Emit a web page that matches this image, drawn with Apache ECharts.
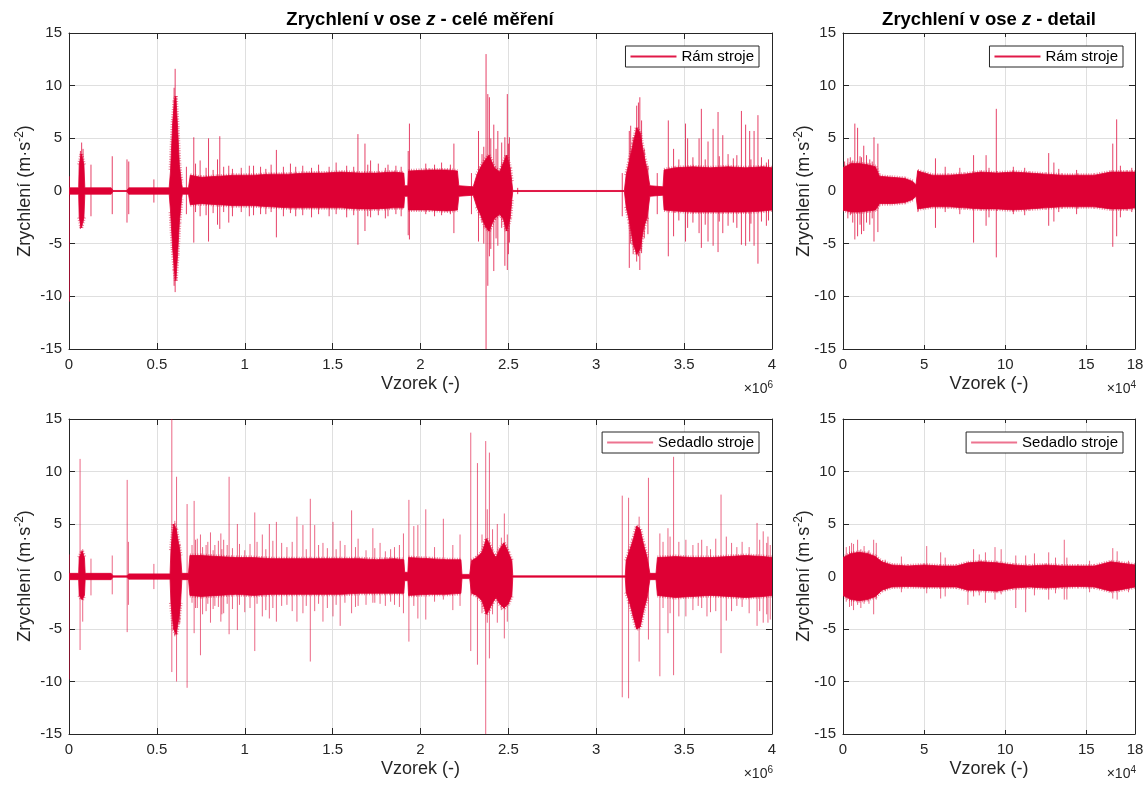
<!DOCTYPE html>
<html>
<head>
<meta charset="utf-8">
<title>Zrychlení v ose z</title>
<script src="https://cdn.jsdelivr.net/npm/echarts@6/dist/echarts.min.js"></script>
<style>
  html, body { margin: 0; padding: 0; background: #fff; }
  #chart { width: 1147px; height: 787px; }
</style>
</head>
<body>
<div id="chart"></div>
<script>
// ---- data (envelopes [x, max, min]) ----
// left panels: x in 1e6 samples, right panels: x in 1e4 samples
var yTicks = [-15, -10, -5, 0, 5, 10, 15];
var seriesNames = ['Rám stroje', 'Sedadlo stroje'];

// rám stroje - celé měření
var ramBand = [
  [0, 0.3, -0.3], [0.055, 0.3, -0.3], [0.058, 2.5, -2.5], [0.07, 3.5, -3.5], [0.085, 2.5, -2.5],
  [0.09, 0.3, -0.3], [0.24, 0.3, -0.3], [0.25, 0.05, -0.05], [0.33, 0.05, -0.05], [0.34, 0.3, -0.3],
  [0.57, 0.3, -0.3], [0.578, 2.0, -2.0], [0.59, 6.5, -5.5], [0.6, 8.5, -7.5], [0.608, 9.0, -8.5],
  [0.618, 6.0, -6.0], [0.628, 2.5, -3.0], [0.64, 0.8, -0.8], [0.645, 0.3, -0.3], [0.68, 0.3, -0.3],
  [0.69, 1.5, -1.3], [0.75, 1.3, -1.2], [0.85, 1.4, -1.3], [0.95, 1.5, -1.4], [1.05, 1.5, -1.4],
  [1.15, 1.6, -1.5], [1.25, 1.6, -1.6], [1.35, 1.7, -1.6], [1.45, 1.7, -1.6], [1.55, 1.8, -1.6],
  [1.65, 1.7, -1.7], [1.75, 1.7, -1.7], [1.85, 1.8, -1.6], [1.905, 1.7, -1.6], [1.91, 0.5, -0.5],
  [1.928, 0.5, -0.5], [1.932, 1.9, -1.8], [2.05, 2.0, -1.8], [2.15, 2.0, -1.9], [2.21, 1.9, -1.8],
  [2.218, 0.5, -0.5], [2.3, 0.4, -0.4], [2.32, 1.5, -1.5], [2.34, 2.2, -2.2], [2.37, 3.0, -3.4],
  [2.39, 3.4, -3.8], [2.42, 2.2, -2.6], [2.45, 1.8, -2.2], [2.47, 2.6, -2.6], [2.49, 3.4, -3.8],
  [2.51, 2.2, -2.6], [2.52, 0.8, -0.8], [2.525, 0.05, -0.05], [3.16, 0.05, -0.05], [3.17, 1.5, -1.5],
  [3.19, 3.0, -3.0], [3.21, 4.5, -5.0], [3.23, 6.0, -6.0], [3.25, 5.5, -5.5], [3.27, 3.5, -3.5],
  [3.29, 2.0, -2.5], [3.305, 0.5, -0.5], [3.38, 0.4, -0.4], [3.386, 2.0, -1.8], [3.45, 2.2, -1.9],
  [3.55, 2.3, -2.0], [3.65, 2.2, -2.0], [3.75, 2.3, -2.0], [3.85, 2.2, -2.0], [3.95, 2.3, -1.9],
  [4.0, 2.2, -1.8]
];
var ramSpikes = [
  [0.002, 1.4, -10.5], [0.065, 3.8, -3.6], [0.072, 4.6, -3.4], [0.08, 4.0, -3.0], [0.125, 2.5, -2.4],
  [0.246, 3.3, -2.2], [0.33, 3.0, -3.0], [0.34, 2.8, -2.2], [0.483, 1.1, -1.1], [0.598, 9.8, -9.0],
  [0.604, 11.6, -9.6], [0.668, 2.3, -2.2], [0.71, 5.1, -4.9], [0.746, 2.9, -2.4], [0.794, 5.0, -4.8],
  [0.845, 3.0, -3.2], [0.858, 5.2, -3.6], [0.909, 2.4, -3.0], [1.026, 2.4, -2.4], [1.09, 2.3, -2.2],
  [1.18, 3.9, -4.4], [1.29, 2.3, -2.4], [1.644, 5.4, -5.1], [1.684, 4.5, -3.8], [1.716, 2.9, -2.5],
  [1.815, 2.5, -2.4], [1.93, 3.8, -4.2], [1.937, 6.4, -4.6], [2.19, 4.5, -4.0], [2.29, 1.7, -2.2],
  [2.33, 5.7, -4.8], [2.35, 3.5, -3.0], [2.36, 4.2, -5.0], [2.373, 13.0, -15], [2.383, 9.2, -9.0],
  [2.392, 8.9, -6.2], [2.4, 5.0, -5.5], [2.417, 6.3, -7.6], [2.43, 4.0, -4.5], [2.44, 5.7, -5.2],
  [2.462, 4.6, -3.5], [2.48, 5.1, -7.1], [2.494, 9.2, -7.5], [2.5, 4.5, -6.0], [2.506, 5.1, -4.9],
  [2.553, 0.3, -0.3], [3.148, 1.7, -2.4], [3.188, 5.7, -7.3], [3.196, 6.2, -5.0], [3.21, 5.1, -6.0],
  [3.23, 8.1, -6.7], [3.24, 8.4, -6.2], [3.248, 8.9, -7.5], [3.258, 6.7, -5.9], [3.273, 4.0, -4.5],
  [3.294, 2.4, -4.1], [3.347, 1.7, -2.2], [3.41, 6.7, -6.2], [3.44, 4.0, -4.3], [3.508, 6.4, -4.8],
  [3.52, 5.0, -3.5], [3.585, 5.0, -4.0], [3.598, 7.8, -5.4], [3.636, 4.7, -4.8], [3.665, 5.9, -5.2],
  [3.693, 7.5, -5.8], [3.72, 5.3, -4.0], [3.75, 3.5, -3.3], [3.826, 7.6, -5.1], [3.85, 6.3, -5.2],
  [3.873, 5.7, -4.8], [3.898, 5.7, -5.2], [3.92, 7.2, -6.9], [3.968, 2.7, -3.3], [3.996, 2.2, -1.6],
  // smaller ones along the band edges
  [0.72, 2.6, -2.0], [0.78, 2.2, -2.3], [0.82, 2.0, -2.1], [0.88, 2.3, -2.0], [0.93, 2.1, -2.4],
  [0.98, 2.2, -2.0], [1.05, 2.4, -2.3], [1.12, 2.1, -2.2], [1.15, 2.5, -2.0], [1.22, 2.3, -2.4],
  [1.26, 2.6, -2.1], [1.33, 2.4, -2.3], [1.38, 2.2, -2.5], [1.42, 2.5, -2.2], [1.48, 2.3, -2.4],
  [1.52, 2.7, -2.2], [1.58, 2.4, -2.5], [1.62, 2.3, -2.3], [1.7, 2.5, -2.4], [1.76, 2.6, -2.3],
  [1.8, 2.2, -2.6], [1.86, 2.4, -2.2], [1.89, 2.3, -2.4], [2.03, 2.6, -2.2], [2.08, 2.5, -2.4],
  [2.12, 2.7, -2.3], [2.17, 2.5, -2.2], [3.47, 3.0, -2.8], [3.55, 3.2, -3.0], [3.62, 3.0, -3.2],
  [3.7, 3.3, -2.9], [3.78, 3.1, -3.0], [3.8, 3.4, -3.5], [3.88, 3.0, -3.1], [3.94, 3.2, -2.9],
  [3.98, 3.0, -2.8]
];

// rám stroje - detail
var ramDetBand = [
  [0, 2.2, -1.8], [0.5, 2.6, -2.0], [1.0, 2.6, -2.0], [1.5, 2.5, -1.9], [2.0, 2.3, -1.8],
  [2.25, 1.4, -1.2], [3.0, 1.3, -1.2], [3.8, 1.2, -1.1], [4.3, 0.9, -0.8], [4.5, 0.6, -0.5],
  [4.6, 1.9, -1.7], [5.5, 1.5, -1.5], [6.5, 1.5, -1.5], [7.5, 1.6, -1.6], [8.5, 1.8, -1.7],
  [9.5, 1.7, -1.7], [10.5, 1.8, -1.8], [11.5, 1.7, -1.7], [12.5, 1.6, -1.6], [13.5, 1.5, -1.5],
  [14.5, 1.5, -1.5], [15.5, 1.5, -1.5], [16.5, 1.8, -1.7], [17.5, 1.8, -1.7], [18, 1.8, -1.6]
];
var ramDetSpikes = [
  [0.1, 2.8, -1.9], [0.3, 3.1, -2.6], [0.45, 3.2, -2.3], [0.6, 2.9, -3.0], [0.73, 6.4, -4.6],
  [0.9, 6.0, -4.3], [1.05, 3.3, -3.2], [1.14, 3.2, -4.1], [1.28, 4.3, -3.8], [1.45, 3.4, -3.0],
  [1.65, 3.0, -3.2], [1.8, 2.8, -2.6], [1.91, 5.1, -4.8], [2.15, 4.5, -3.9], [4.62, 2.0, -2.0],
  [5.7, 3.1, -3.5], [6.3, 2.3, -2.0], [7.2, 2.2, -2.2], [8.05, 3.4, -4.9], [8.82, 3.4, -3.3],
  [9.0, 2.2, -2.5], [9.45, 7.8, -6.3], [10.5, 2.3, -2.2], [11.2, 2.2, -2.3], [12.68, 3.6, -3.3],
  [13.0, 2.7, -2.9], [13.3, 2.1, -2.0], [14.4, 2.0, -2.2], [16.63, 4.5, -5.3], [16.87, 6.8, -4.3],
  [17.1, 2.4, -2.5], [17.8, 2.2, -2.0]
];

// sedadlo stroje - celé měření
var sedBand = [
  [0, 0.3, -0.3], [0.055, 0.3, -0.3], [0.058, 1.8, -1.8], [0.075, 2.4, -2.2], [0.088, 1.8, -1.8],
  [0.092, 0.3, -0.3], [0.24, 0.3, -0.3], [0.25, 0.06, -0.06], [0.33, 0.06, -0.06], [0.34, 0.25, -0.25],
  [0.575, 0.25, -0.25], [0.58, 2.5, -2.5], [0.595, 5.0, -5.0], [0.61, 4.5, -5.5], [0.625, 3.0, -4.0],
  [0.635, 2.0, -2.5], [0.642, 0.3, -0.3], [0.68, 0.3, -0.3], [0.688, 2.0, -1.8], [0.75, 2.0, -1.9],
  [0.85, 1.9, -1.8], [0.95, 1.8, -1.7], [1.05, 1.8, -1.8], [1.15, 1.7, -1.7], [1.25, 1.7, -1.7],
  [1.35, 1.7, -1.7], [1.45, 1.7, -1.7], [1.55, 1.7, -1.7], [1.65, 1.7, -1.6], [1.75, 1.6, -1.6],
  [1.85, 1.7, -1.6], [1.905, 1.6, -1.6], [1.91, 0.4, -0.4], [1.928, 0.4, -0.4], [1.932, 1.8, -1.8],
  [2.05, 1.7, -1.7], [2.15, 1.6, -1.7], [2.23, 1.6, -1.6], [2.236, 0.2, -0.2], [2.28, 0.2, -0.2],
  [2.29, 1.5, -1.6], [2.32, 1.8, -1.8], [2.35, 2.3, -2.3], [2.375, 3.6, -3.6], [2.39, 3.2, -3.2],
  [2.41, 2.3, -2.5], [2.43, 1.8, -2.0], [2.45, 2.6, -2.6], [2.475, 3.2, -3.0], [2.5, 2.3, -2.6],
  [2.52, 1.5, -1.8], [2.525, 0.06, -0.06], [3.165, 0.06, -0.06], [3.17, 1.5, -1.5], [3.19, 2.5, -2.5],
  [3.21, 3.5, -3.8], [3.23, 4.8, -5.0], [3.25, 4.5, -4.8], [3.27, 3.0, -3.2], [3.29, 1.8, -2.0],
  [3.305, 0.3, -0.3], [3.34, 0.3, -0.3], [3.348, 1.8, -1.8], [3.45, 1.9, -2.0], [3.55, 1.8, -1.9],
  [3.65, 1.8, -1.8], [3.75, 1.9, -1.9], [3.85, 2.0, -2.0], [3.95, 1.9, -1.9], [4.0, 1.8, -1.8]
];
var sedSpikes = [
  [0.002, 2.1, -9.8], [0.063, 11.2, -7.0], [0.07, 2.5, -2.2], [0.078, 2.6, -4.3], [0.125, 1.7, -1.8],
  [0.246, 2.0, -1.7], [0.331, 9.2, -5.3], [0.338, 3.3, -2.7], [0.483, 1.2, -1.2], [0.585, 15, -9.1],
  [0.602, 5.3, -5.7], [0.612, 9.5, -10.0], [0.63, 3.0, -4.5], [0.672, 6.9, -10.6], [0.712, 7.2, -5.4],
  [0.72, 3.5, -3.0], [0.748, 4.0, -7.5], [0.78, 3.0, -3.3], [0.805, 4.2, -4.4], [0.83, 3.0, -2.8],
  [0.864, 4.1, -4.3], [0.88, 3.5, -3.5], [0.911, 9.5, -5.5], [0.958, 5.0, -5.1], [1.03, 3.1, -3.0],
  [1.057, 6.1, -7.1], [1.1, 4.0, -3.8], [1.14, 5.0, -4.0], [1.18, 5.2, -4.3], [1.21, 3.2, -2.8],
  [1.297, 5.7, -4.3], [1.331, 4.9, -3.5], [1.373, 7.4, -8.1], [1.398, 4.9, -3.3], [1.445, 3.2, -4.3],
  [1.502, 5.2, -3.8], [1.543, 3.4, -4.7], [1.608, 6.3, -3.5], [1.645, 3.6, -2.8], [1.729, 4.6, -2.5],
  [1.77, 3.2, -2.6], [1.852, 2.8, -2.7], [1.903, 4.1, -3.5], [1.934, 7.3, -6.2], [1.962, 4.8, -2.8],
  [1.985, 4.9, -4.0], [2.03, 6.4, -4.1], [2.08, 2.8, -2.4], [2.13, 5.5, -2.2], [2.184, 3.0, -3.2],
  [2.225, 4.0, -2.8], [2.286, 13.7, -7.1], [2.324, 10.8, -8.4], [2.35, 4.0, -3.5], [2.371, 12.9, -15],
  [2.38, 6.4, -4.4], [2.392, 11.8, -7.8], [2.41, 4.5, -3.6], [2.437, 5.0, -4.4], [2.46, 3.7, -3.2],
  [2.477, 6.0, -5.9], [2.494, 4.0, -4.3], [3.148, 7.7, -11.5], [3.184, 7.5, -11.6],
  [3.244, 5.7, -8.1], [3.297, 9.4, -6.0], [3.362, 4.1, -9.5], [3.408, 4.6, -5.4], [3.44, 11.4, -9.4],
  [3.51, 3.5, -3.8], [3.58, 3.2, -2.8], [3.65, 2.6, -3.4], [3.71, 7.8, -7.3], [3.74, 3.8, -4.2],
  [3.8, 2.8, -2.8], [3.915, 5.1, -4.7], [3.95, 4.3, -4.4], [3.977, 3.8, -4.4], [3.99, 3.0, -4.1],
  // smaller ones along the band edges
  [0.7, 3.0, -2.5], [0.73, 3.6, -3.0], [0.76, 2.8, -3.6], [0.79, 3.3, -2.6], [0.82, 2.5, -3.1],
  [0.85, 3.4, -2.9], [0.87, 2.6, -3.6], [0.9, 3.0, -2.6], [0.93, 2.7, -3.1], [0.97, 3.1, -2.7],
  [1.0, 2.5, -3.4], [1.07, 3.3, -2.6], [1.12, 2.6, -3.2], [1.16, 3.4, -3.0], [1.24, 2.8, -2.7],
  [1.27, 3.3, -3.3], [1.35, 2.6, -2.8], [1.42, 3.0, -2.6], [1.47, 2.7, -3.0], [1.52, 2.6, -2.7],
  [1.57, 3.0, -2.5], [1.63, 2.8, -2.9], [1.69, 2.5, -2.7], [1.74, 2.7, -2.5], [1.8, 2.4, -2.8],
  [1.83, 2.6, -2.4], [1.88, 3.0, -2.9], [3.38, 3.3, -3.0], [3.42, 3.8, -3.5], [3.47, 3.3, -3.8],
  [3.55, 3.0, -3.2], [3.6, 3.5, -3.0], [3.63, 2.9, -3.8], [3.68, 3.6, -3.3], [3.77, 3.2, -3.3],
  [3.83, 3.3, -2.9], [3.87, 2.8, -3.5], [3.93, 3.5, -3.3], [3.97, 3.2, -3.6]
];

// sedadlo stroje - detail
var sedDetBand = [
  [0, 1.8, -1.8], [0.5, 2.2, -2.2], [1.0, 2.3, -2.3], [1.5, 2.2, -2.2], [2.0, 1.9, -1.9],
  [2.4, 1.4, -1.3], [3.0, 1.1, -1.0], [4.0, 1.0, -0.95], [5.0, 1.1, -1.0], [6.0, 1.0, -1.0],
  [7.0, 1.0, -1.0], [7.7, 1.3, -1.3], [8.5, 1.4, -1.3], [9.5, 1.3, -1.4], [10.5, 1.1, -1.1],
  [11.5, 1.0, -1.0], [12.5, 1.1, -1.1], [13.5, 1.0, -1.0], [14.5, 1.0, -0.95], [15.5, 1.0, -1.0],
  [16.5, 1.4, -1.4], [17.0, 1.3, -1.3], [18, 1.1, -1.0]
];
var sedDetSpikes = [
  [0.2, 2.8, -2.4], [0.4, 2.9, -2.9], [0.53, 3.2, -2.8], [0.65, 3.1, -3.2], [0.9, 3.5, -2.7],
  [1.1, 2.6, -3.0], [1.3, 2.9, -2.6], [1.6, 2.5, -2.6], [1.89, 3.5, -3.6], [2.05, 3.2, -2.2],
  [2.6, 1.6, -1.4], [3.6, 1.9, -1.5], [5.16, 2.9, -1.6], [6.02, 2.3, -2.1], [6.3, 1.8, -1.9],
  [7.7, 1.3, -2.7], [8.05, 2.6, -1.9], [8.4, 2.1, -1.8], [8.78, 2.3, -2.5], [9.37, 2.8, -2.2],
  [9.75, 2.6, -1.7], [10.65, 2.0, -3.0], [11.26, 2.0, -3.4], [11.8, 2.2, -1.8], [12.68, 2.3, -2.2],
  [13.1, 1.8, -1.6], [13.64, 3.5, -2.2], [13.8, 1.8, -2.2], [15.2, 1.5, -1.5], [16.63, 2.7, -2.1],
  [16.9, 2.4, -2.2], [17.6, 1.5, -1.5]
];

var FONT = '"Liberation Sans", Arial, Helvetica, sans-serif';
var INK = '#262626';
var RED = '#DE0034';

var grids = [
  { left: 69, top: 33, width: 703, height: 316 },
  { left: 843, top: 33, width: 292, height: 316 },
  { left: 69, top: 419, width: 703, height: 315 },
  { left: 843, top: 419, width: 292, height: 315 }
];
var xMax = [4, 18, 4, 18];
var xStep = [0.5, 5, 0.5, 5];

// whole envelope as one polygon (upper edge forward, lower edge back)
function bandRender(data) {
  return function (params, api) {
    if (params.dataIndex !== 0) return null;
    var pts = [];
    for (var i = 0; i < data.length; i++) pts.push(api.coord([data[i][0], data[i][1]]));
    for (var j = data.length - 1; j >= 0; j--) pts.push(api.coord([data[j][0], data[j][2]]));
    return { type: 'polygon', shape: { points: pts }, style: { fill: RED, stroke: RED, lineWidth: 0.8 } };
  };
}
// fuzzy noisy rim along the envelope edges, only where the signal is not quiet
function rimRender(data) {
  return function (params, api) {
    var i = params.dataIndex;
    if (i >= data.length - 1) return null;
    var a = data[i], b = data[i + 1];
    var kids = [];
    var rim = { stroke: 'rgba(222,0,52,0.5)', lineWidth: 4, lineDash: [1, 1.5] };
    if (a[1] > 0.6 && b[1] > 0.6) {
      var p = api.coord([a[0], a[1]]), q = api.coord([b[0], b[1]]);
      kids.push({ type: 'line', shape: { x1: p[0], y1: p[1], x2: q[0], y2: q[1] }, style: rim });
    }
    if (a[2] < -0.6 && b[2] < -0.6) {
      var r = api.coord([a[0], a[2]]), s = api.coord([b[0], b[2]]);
      kids.push({ type: 'line', shape: { x1: r[0], y1: r[1], x2: s[0], y2: s[1] }, style: rim });
    }
    return { type: 'group', children: kids };
  };
}
function spikeRender(color) {
  return function (params, api) {
    var p1 = api.coord([api.value(0), api.value(1)]);
    var p2 = api.coord([api.value(0), api.value(2)]);
    return {
      type: 'line',
      shape: { x1: p1[0], y1: p1[1], x2: p2[0], y2: p2[1] },
      style: { stroke: color, lineWidth: 1 }
    };
  };
}

var xAxes = [], yAxes = [];
grids.forEach(function (g, i) {
  xAxes.push({
    type: 'value', gridIndex: i, min: 0, max: xMax[i], interval: xStep[i],
    name: 'Vzorek (-)', nameLocation: 'middle', nameGap: 26,
    nameTextStyle: { fontFamily: FONT, fontSize: 18, color: INK },
    axisLine: { show: true, onZero: false, lineStyle: { color: INK } },
    axisTick: { show: true, inside: true, length: i % 2 ? 4 : 6, lineStyle: { color: INK } },
    axisLabel: { fontFamily: FONT, fontSize: 15, color: INK, margin: 8 },
    splitLine: { show: true, lineStyle: { color: '#dfdfdf' } }
  });
  yAxes.push({
    type: 'value', gridIndex: i, min: -15, max: 15, interval: 5,
    axisLine: { show: true, onZero: false, lineStyle: { color: INK } },
    axisTick: { show: true, inside: true, length: 6, lineStyle: { color: INK } },
    axisLabel: { fontFamily: FONT, fontSize: 15, color: INK, margin: 7 },
    splitLine: { show: true, lineStyle: { color: '#dfdfdf' } }
  });
});
// top and right frame sides with inner ticks
grids.forEach(function (g, i) {
  xAxes.push({
    type: 'value', gridIndex: i, position: 'top', min: 0, max: xMax[i], interval: xStep[i],
    axisLine: { show: true, onZero: false, lineStyle: { color: INK } },
    axisTick: { show: true, inside: true, length: i % 2 ? 4 : 6, lineStyle: { color: INK } },
    axisLabel: { show: false }, splitLine: { show: false }
  });
  yAxes.push({
    type: 'value', gridIndex: i, position: 'right', min: -15, max: 15, interval: 5,
    axisLine: { show: true, onZero: false, lineStyle: { color: INK } },
    axisTick: { show: true, inside: true, length: 6, lineStyle: { color: INK } },
    axisLabel: { show: false }, splitLine: { show: false }
  });
});

var panels = [
  { band: ramBand, spikes: ramSpikes, name: seriesNames[0], spikeColor: 'rgba(222,0,52,0.75)' },
  { band: ramDetBand, spikes: ramDetSpikes, name: seriesNames[0], spikeColor: 'rgba(222,0,52,0.75)' },
  { band: sedBand, spikes: sedSpikes, name: seriesNames[1], spikeColor: 'rgba(222,0,52,0.6)' },
  { band: sedDetBand, spikes: sedDetSpikes, name: seriesNames[1], spikeColor: 'rgba(222,0,52,0.6)' }
];
var series = [];
panels.forEach(function (p, i) {
  var common = {
    type: 'custom', name: p.name, xAxisIndex: i, yAxisIndex: i, clip: true, silent: true,
    itemStyle: { color: RED }, encode: { x: 0, y: [1, 2] }
  };
  series.push(Object.assign({}, common, { renderItem: spikeRender(p.spikeColor), data: p.spikes }));
  series.push(Object.assign({}, common, { renderItem: rimRender(p.band), data: p.band }));
  series.push(Object.assign({}, common, { renderItem: bandRender(p.band), data: p.band }));
});

function legendAt(name, right, top, color) {
  return {
    data: [{ name: name, icon: 'rect', itemStyle: { color: color } }],
    right: right, top: top, orient: 'horizontal',
    itemWidth: 46, itemHeight: 2, padding: [3, 5, 3, 5],
    backgroundColor: '#fff', borderColor: INK, borderWidth: 1, borderRadius: 0,
    textStyle: { fontFamily: FONT, fontSize: 15, color: '#000', padding: [0, 0, 0, 0] },
    selectedMode: false
  };
}

function titleAt(center, withDetail) {
  return {
    text: withDetail ? '{a|Zrychlení v ose }{b|z}{a| - detail}' : '{a|Zrychlení v ose }{b|z}{a| - celé měření}',
    left: center, top: 10, textAlign: 'center', padding: 0,
    textStyle: {
      rich: {
        a: { fontFamily: FONT, fontSize: 18.5, fontWeight: 'bold', color: '#000' },
        b: { fontFamily: FONT, fontSize: 18.5, fontWeight: 'bold', fontStyle: 'italic', color: '#000' }
      }
    }
  };
}

function expLabel(right, top, power) {
  return {
    type: 'text', right: right, top: top,
    style: {
      text: '{a|×10}{s|' + power + '}',
      rich: {
        a: { fontFamily: FONT, fontSize: 14, fill: INK, lineHeight: 18 },
        s: { fontFamily: FONT, fontSize: 10, fill: INK, verticalAlign: 'top', lineHeight: 18 }
      }
    }
  };
}
// rotated y axis title, centred on the plot height
function yName(cx, cy) {
  return {
    type: 'text', x: cx, y: cy, rotation: Math.PI / 2,
    style: {
      text: '{n|Zrychlení (m·s}{s|-2}{n|)}', align: 'center', verticalAlign: 'middle',
      rich: {
        n: { fontFamily: FONT, fontSize: 18, fill: INK, lineHeight: 22 },
        s: { fontFamily: FONT, fontSize: 12, fill: INK, verticalAlign: 'top', lineHeight: 22 }
      }
    }
  };
}

var chart = echarts.init(document.getElementById('chart'), null, { renderer: 'canvas' });
chart.setOption({
  backgroundColor: '#fff',
  animation: false,
  title: [titleAt(420, false), titleAt(989, true)],
  legend: [
    legendAt(seriesNames[0], 388, 46, 'rgba(222,0,52,0.9)'),
    legendAt(seriesNames[0], 24, 46, 'rgba(222,0,52,0.9)'),
    legendAt(seriesNames[1], 388, 432, 'rgba(222,0,52,0.55)'),
    legendAt(seriesNames[1], 24, 432, 'rgba(222,0,52,0.55)')
  ],
  grid: grids,
  xAxis: xAxes,
  yAxis: yAxes,
  series: series,
  graphic: [
    expLabel(1147 - 773, 380, 6),
    expLabel(1147 - 1136, 380, 4),
    expLabel(1147 - 773, 765, 6),
    expLabel(1147 - 1136, 765, 4),
    yName(25, 191),
    yName(804, 191),
    yName(25, 576),
    yName(804, 576)
  ]
});
</script>
</body>
</html>
